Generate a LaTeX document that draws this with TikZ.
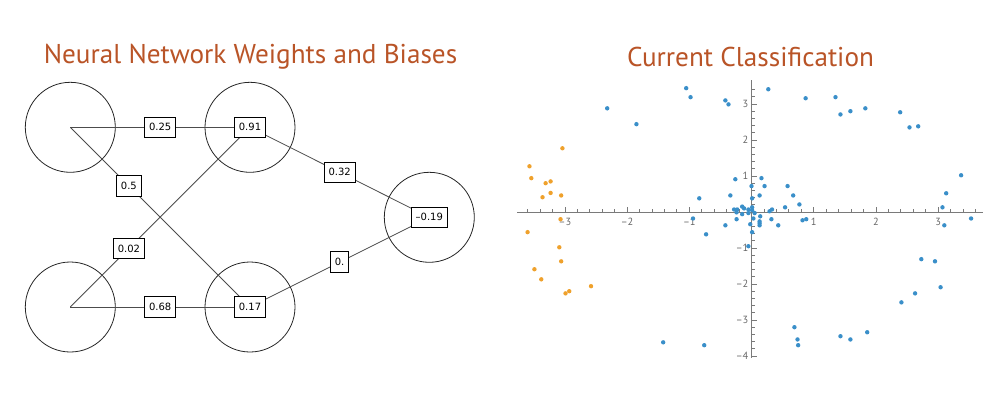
\documentclass[tikz,border=0pt]{standalone}
\usepackage{fontspec}
\usepackage{xcolor}
\usepackage{tikz}
\usetikzlibrary{shapes,arrows}
\newfontfamily\titlefont{PT Sans}
\newfontfamily\boxfont{DejaVu Sans}
\definecolor{titlered}{HTML}{B95427}
\definecolor{dotblue}{HTML}{3A8FC9}
\definecolor{dotorange}{HTML}{EFA12C}
\definecolor{axisgray}{HTML}{7A7A7A}
\tikzstyle{neuron} = [circle, draw=black!85, line width=0.6pt, minimum size=67.5pt, inner sep=0pt]
\tikzstyle{weight} = [rectangle, draw=black, text=black, fill=white, line width=0.6pt, font=\boxfont\fontsize{7.5}{9}\selectfont, inner xsep=3.3pt, minimum height=15.5pt]
\tikzstyle{link} = [draw=black!70, line width=0.6pt]
\tikzstyle{title} = [font=\titlefont\fontsize{20.4}{24}\selectfont, text=titlered]
\tikzstyle{axis} = [draw=axisgray, line width=0.6pt]
\tikzstyle{ticklabel} = [font=\titlefont\fontsize{7.8}{9}\selectfont, text=black!60, inner sep=1.2pt]

\begin{document}
\begin{tikzpicture}[x=0.75pt, y=-0.75pt]
\useasboundingbox (0,0) rectangle (1000,400);
\node [title] (nettitle) at (250.5,57) {Neural Network Weights and Biases};
\node [title] (classtitle) at (750.5,57) {Current Classification};
% network
\node [neuron] (i1) at (70.3,127.3) {};
\node [neuron] (i2) at (70.3,307) {};
\node [neuron] (h1) at (250,127.3) {};
\node [neuron] (h2) at (250,307) {};
\node [neuron] (o1) at (429.3,217.3) {};
\path [link] (i1.center) -- (h1.center) node [weight, pos=0.5] (w11) {0.25};
\path [link] (i1.center) -- (h2.center) node [weight, pos=0.326] (w12) {0.5};
\path [link] (i2.center) -- (h1.center) node [weight, pos=0.326] (w21) {0.02};
\path [link] (i2.center) -- (h2.center) node [weight, pos=0.5] (w22) {0.68};
\path [link] (h1.center) -- (o1.center) node [weight, pos=0.5] (v1) {0.32};
\path [link] (h2.center) -- (o1.center) node [weight, pos=0.5] (v2) {0.};
\node [weight] (b1) at (h1) {0.91};
\node [weight] (b2) at (h2) {0.17};
\node [weight] (b3) at (o1) {–0.19};
% scatter plot
\begin{scope}[xshift=563.625pt, yshift=-159pt, x=46.65pt, y=27pt]
\path [axis] (-3.77,0) -- (3.72,0);
\path [axis] (0,-4.05) -- (0,3.67);
\foreach \t in {-3.6,-3.4,...,3.61} \path [axis] (\t,0) -- (\t,0.085);
\foreach \t in {-4,-3.8,...,3.41} \path [axis] (0,\t) -- (0.05,\t);
\foreach \t/\l in {-3/–3,-2/–2,-1/–1,1/1,2/2,3/3} {
  \path [axis] (\t,0) -- (\t,0.15);
  \node [ticklabel, anchor=north] at (\t,-0.12) {\l};
}
\foreach \t/\l in {-4/–4,-3/–3,-2/–2,-1/–1,1/1,2/2,3/3} {
  \path [axis] (0,\t) -- (0.085,\t);
  \node [ticklabel, anchor=east] at (-0.02,\t) {\l};
}
\foreach \x/\y in {-2.32/2.88, -1.85/2.44, -1.05/3.44, -0.98/3.19, -0.42/3.10, -0.37/2.99,
  0.27/3.41, 0.87/3.16, 1.35/3.19, 1.43/2.71, 1.59/2.80, 1.83/2.88, 2.39/2.77, 2.54/2.35, 2.68/2.38,
  3.37/1.02, 3.13/0.52, 3.07/0.13, 3.10/-0.37, 3.53/-0.18,
  2.73/-1.31, 2.95/-1.37, 3.04/-2.09, 2.63/-2.26, 2.41/-2.51,
  0.69/-3.20, 0.74/-3.54, 0.75/-3.70, 1.43/-3.45, 1.59/-3.54, 1.86/-3.34,
  -1.42/-3.62, -0.76/-3.70,
  -0.84/0.38, -0.26/0.91, -0.34/0.46, 0.0/0.72, 0.01/0.38, 0.16/0.94, 0.21/0.72, 0.13/0.46,
  0.58/0.72, 0.67/0.46, 0.77/0.21, 0.54/0.13,
  -0.94/-0.18, -0.73/-0.62, -0.42/-0.37, -0.24/-0.20, -0.02/-0.34, 0.01/-0.56, -0.05/-0.95,
  -0.28/0.07, -0.23/0.07, -0.15/0.15, -0.12/0.10, -0.05/0.07, 0.01/0.13, 0.01/0.05, -0.24/-0.01,
  -0.15/-0.06, -0.05/-0.03, 0.05/-0.03, 0.03/-0.18, 0.14/-0.12, 0.13/-0.26, 0.13/-0.31, 0.13/-0.37,
  0.32/-0.20, 0.29/0.02, 0.33/0.07, 0.43/-0.37, 0.82/-0.23, 0.88/-0.20}
  \fill [dotblue] (\x,\y) circle (1.65pt);
\foreach \x/\y in {-3.04/1.77, -3.57/1.27, -3.54/0.94, -3.31/0.80, -3.23/0.85, -3.36/0.41,
  -3.23/0.53, -3.06/0.46, -3.07/-0.20, -3.60/-0.56, -3.09/-0.98, -3.06/-1.37, -3.49/-1.59,
  -3.38/-1.87, -2.99/-2.26, -2.93/-2.20, -2.58/-2.06}
  \fill [dotorange] (\x,\y) circle (1.65pt);
\end{scope}
\end{tikzpicture}
\end{document}
